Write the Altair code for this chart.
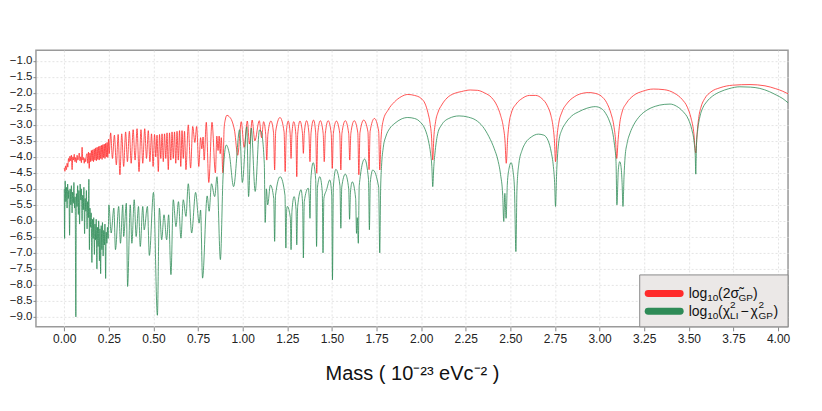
import altair as alt
import pandas as pd

# ---------------- data ----------------
red_mass = [
    0.000, 0.004, 0.008, 0.012, 0.016, 0.020, 0.024, 0.028, 0.032, 0.036, 0.040, 0.044, 0.048, 0.052,
    0.056, 0.060, 0.064, 0.068, 0.072, 0.076, 0.080, 0.084, 0.088, 0.092, 0.096, 0.100, 0.104, 0.108,
    0.112, 0.116, 0.120, 0.124,
    0.128, 0.132, 0.136, 0.140, 0.144, 0.148, 0.152, 0.156, 0.160, 0.164, 0.168, 0.172, 0.176, 0.180,
    0.184, 0.188, 0.192, 0.196, 0.200, 0.204, 0.208, 0.212, 0.216, 0.220, 0.224, 0.228, 0.232, 0.236,
    0.240, 0.244, 0.248, 0.252,
    0.260, 0.270, 0.281, 0.292, 0.302, 0.312, 0.322, 0.333, 0.344, 0.354, 0.365, 0.375, 0.386, 0.397,
    0.408, 0.419, 0.430, 0.440, 0.451, 0.461, 0.471, 0.480, 0.489,
    0.498, 0.506, 0.513, 0.520, 0.527, 0.534, 0.541, 0.548, 0.555, 0.562, 0.569, 0.576, 0.583, 0.590,
    0.597, 0.604, 0.611, 0.618, 0.625, 0.632, 0.639, 0.646, 0.653, 0.660, 0.667, 0.674, 0.682,
    0.695, 0.708, 0.720, 0.732, 0.742, 0.754, 0.764, 0.771, 0.778, 0.784, 0.796, 0.810, 0.828, 0.847,
    0.855, 0.862, 0.868, 0.874, 0.880, 0.889, 0.896, 0.902, 0.912, 0.924, 0.940, 0.955, 0.972,
    0.992, 1.008, 1.026, 1.038, 1.053, 1.068, 1.093, 1.106, 1.117,
    1.129, 1.135, 1.141, 1.158, 1.173, 1.179, 1.185, 1.209, 1.232, 1.238, 1.244, 1.255, 1.266, 1.271,
    1.276, 1.286, 1.298, 1.303, 1.308, 1.321, 1.335, 1.340, 1.345, 1.358, 1.371, 1.377, 1.383, 1.397,
    1.409, 1.415, 1.421, 1.435, 1.451, 1.457, 1.463, 1.479, 1.496, 1.502, 1.508, 1.525, 1.544, 1.550,
    1.556, 1.575, 1.594, 1.600, 1.606, 1.625, 1.645, 1.651, 1.657, 1.678, 1.702, 1.708, 1.714, 1.738,
    1.762, 1.768,
    1.775, 1.788, 1.813, 1.851, 1.888, 1.925, 1.963, 1.999, 2.023, 2.038, 2.050, 2.058, 2.065,
    2.071, 2.081, 2.095, 2.115, 2.145, 2.185, 2.225, 2.275, 2.315, 2.355, 2.395, 2.425, 2.445, 2.460,
    2.470, 2.477,
    2.485, 2.493, 2.507, 2.532, 2.567, 2.607, 2.642, 2.677, 2.707, 2.727, 2.739, 2.747, 2.753,
    2.761, 2.771, 2.789, 2.819, 2.859, 2.899, 2.939, 2.979, 3.009, 3.039, 3.064, 3.079, 3.089, 3.096,
    3.104, 3.113, 3.126, 3.151, 3.191, 3.241, 3.301, 3.362, 3.422, 3.462, 3.492, 3.512, 3.527, 3.539,
    3.546, 3.555, 3.568, 3.589, 3.624, 3.675, 3.746, 3.843, 3.927, 3.987, 4.027, 4.060,
]
red_value = [
    -4.35, -4.45, -4.28, -4.40, -4.20, -4.32, -4.05, -4.15, -3.98, -4.12, -3.95, -4.40, -4.00, -4.10,
    -3.92, -4.15, -4.02, -4.18, -3.95, -4.10, -4.05, -3.88, -4.12, -4.00, -4.18, -3.70, -4.10, -4.02,
    -4.20, -4.05, -4.15, -3.95,
    -3.90, -4.20, -3.85, -4.36, -3.88, -4.15, -3.80, -4.12, -3.78, -4.15, -3.75, -4.10, -3.72, -4.12,
    -3.70, -4.08, -3.68, -4.10, -3.66, -4.05, -3.64, -4.08, -3.62, -4.02, -3.60, -4.05, -3.58, -4.00,
    -3.55, -4.02, -3.45, -3.90,
    -3.25, -4.05, -3.32, -4.25, -3.30, -4.56, -3.28, -4.30, -3.22, -4.15, -3.20, -4.20, -3.15, -4.10,
    -3.12, -4.46, -3.15, -4.20, -3.12, -4.05, -3.18, -4.15, -3.28,
    -4.30, -3.30, -4.00, -3.32, -4.46, -3.30, -4.05, -3.28, -4.15, -3.28, -4.05, -3.25, -4.40, -3.25,
    -4.10, -3.22, -4.05, -3.22, -4.20, -3.20, -4.10, -3.18, -4.30, -3.18, -4.05, -3.20, -4.40,
    -3.00, -4.35, -3.05, -3.55, -3.05, -4.30, -3.40, -3.75, -3.38, -4.10, -2.92, -4.80, -2.92, -4.50,
    -3.35, -3.80, -3.35, -3.90, -3.40, -4.50, -3.10, -2.85, -2.70, -2.74, -2.88, -3.20, -3.95,
    -2.90, -3.70, -2.88, -3.60, -2.85, -3.50, -2.87, -3.40, -2.90,
    -3.30, -4.10, -3.30, -2.88, -3.25, -4.41, -3.20, -2.77, -3.22, -4.46, -3.25, -2.88, -3.28, -4.05,
    -3.28, -2.90, -3.30, -4.62, -3.30, -2.88, -3.27, -3.89, -3.27, -2.87, -3.25, -4.15, -3.25, -2.85,
    -3.25, -4.51, -3.25, -2.87, -3.27, -4.15, -3.27, -2.87, -3.27, -4.36, -3.27, -2.88, -3.27, -4.41,
    -3.27, -2.87, -3.27, -4.10, -3.27, -2.87, -3.25, -4.56, -3.25, -2.85, -3.22, -4.40, -3.20, -2.80,
    -3.20, -4.41,
    -3.45, -2.85, -2.55, -2.28, -2.12, -2.05, -2.08, -2.17, -2.35, -2.62, -2.95, -3.35, -4.10,
    -3.40, -2.90, -2.60, -2.38, -2.16, -2.02, -1.96, -1.91, -1.92, -2.00, -2.15, -2.40, -2.70, -3.05,
    -3.50, -4.20,
    -3.40, -2.95, -2.60, -2.35, -2.17, -2.08, -2.08, -2.18, -2.40, -2.70, -3.05, -3.50, -4.15,
    -3.40, -2.95, -2.60, -2.32, -2.12, -2.02, -1.99, -2.02, -2.10, -2.30, -2.65, -3.00, -3.45, -4.05,
    -3.45, -2.95, -2.60, -2.32, -2.08, -1.95, -1.88, -1.90, -2.02, -2.20, -2.45, -2.78, -3.20, -3.88,
    -3.30, -2.80, -2.45, -2.18, -1.97, -1.84, -1.76, -1.74, -1.78, -1.87, -1.95, -2.04,
]

green_mass = [
    0.000, 0.002, 0.005, 0.009, 0.012, 0.016, 0.019, 0.023, 0.026, 0.030, 0.033, 0.037, 0.040, 0.044,
    0.047, 0.051, 0.054, 0.058, 0.061, 0.065, 0.068, 0.072, 0.075, 0.079, 0.082, 0.086, 0.089, 0.093,
    0.096, 0.100, 0.103, 0.107, 0.110, 0.114, 0.117, 0.121, 0.124, 0.128, 0.131, 0.135, 0.138, 0.141,
    0.144, 0.148, 0.151, 0.155, 0.158, 0.162, 0.165, 0.169, 0.172, 0.176, 0.179, 0.183, 0.186, 0.190,
    0.193, 0.197, 0.200, 0.204, 0.207, 0.211, 0.214, 0.218, 0.221, 0.225, 0.228, 0.232, 0.235, 0.239,
    0.242, 0.246,
    0.250, 0.263, 0.278, 0.287, 0.305, 0.315, 0.328, 0.333, 0.348, 0.355, 0.370, 0.379, 0.392, 0.403,
    0.416, 0.426, 0.440, 0.448, 0.466, 0.477,
    0.500, 0.522, 0.533, 0.546, 0.559, 0.574, 0.585, 0.598, 0.611, 0.626, 0.640, 0.654, 0.667, 0.682,
    0.695, 0.714, 0.736, 0.756, 0.764, 0.775, 0.801, 0.812, 0.825, 0.843, 0.856, 0.875, 0.890, 0.908,
    0.925, 0.949,
    0.983, 0.998, 1.023, 1.033, 1.048, 1.070, 1.094, 1.103, 1.121, 1.126, 1.133, 1.140, 1.155,
    1.174, 1.179, 1.184, 1.210, 1.237, 1.242, 1.246, 1.250, 1.267, 1.271, 1.276, 1.288, 1.299, 1.303,
    1.308, 1.327, 1.336, 1.340, 1.345, 1.367, 1.373, 1.377, 1.382, 1.395, 1.409, 1.414, 1.419, 1.432,
    1.446, 1.450, 1.455, 1.470, 1.488, 1.499, 1.503, 1.508, 1.522, 1.545, 1.550, 1.555, 1.575, 1.594,
    1.599, 1.604, 1.614, 1.633, 1.638, 1.642, 1.648, 1.653, 1.683, 1.705, 1.710, 1.715, 1.729, 1.762,
    1.768,
    1.773, 1.778, 1.788, 1.803, 1.823, 1.853, 1.888, 1.925, 1.963, 1.998, 2.023, 2.041, 2.053, 2.060,
    2.065,
    2.071, 2.079, 2.093, 2.115, 2.155, 2.213, 2.265, 2.306, 2.345, 2.380, 2.410, 2.430, 2.445, 2.457,
    2.463, 2.469, 2.476, 2.483, 2.493, 2.504, 2.515, 2.523, 2.531,
    2.537, 2.548, 2.565, 2.585, 2.617, 2.657, 2.687, 2.712, 2.729, 2.741, 2.748, 2.753,
    2.760, 2.765, 2.772, 2.789, 2.809, 2.844, 2.883, 2.929, 2.976, 3.010, 3.035, 3.055, 3.072, 3.084,
    3.092, 3.097, 3.105, 3.113, 3.120, 3.126, 3.131,
    3.137, 3.143, 3.154, 3.171, 3.191, 3.226, 3.265, 3.312, 3.362, 3.395, 3.432, 3.467, 3.497, 3.517,
    3.530, 3.536, 3.539,
    3.543, 3.549, 3.562, 3.580, 3.600, 3.633, 3.674, 3.724, 3.786, 3.845, 3.898, 3.951, 3.991, 4.027,
    4.060,
]
green_value = [
    -5.00, -6.55, -4.75, -5.40, -4.95, -5.60, -4.85, -5.30, -5.05, -6.45, -5.00, -5.50, -4.90, -5.75,
    -5.10, -5.45, -4.80, -5.60, -5.25, -9.00, -5.15, -5.55, -4.90, -5.80, -5.05, -6.10, -4.85, -5.35,
    -5.00, -6.00, -5.20, -5.65, -4.95, -6.40, -5.30, -5.70, -5.05, -6.25, -5.40, -5.90, -4.70, -6.90,
    -5.60, -6.20, -5.75, -7.30, -5.95, -6.55, -5.90, -7.05, -6.10, -6.60, -5.95, -7.50, -6.20, -6.80,
    -6.00, -7.25, -6.25, -7.65, -6.15, -6.90, -6.05, -7.10, -6.30, -6.75, -6.10, -7.80, -6.35, -6.70,
    -6.20, -6.55,
    -5.50, -6.38, -5.60, -6.90, -5.55, -6.70, -5.50, -6.49, -5.45, -8.05, -5.50, -6.70, -5.34, -6.49,
    -5.55, -6.80, -5.55, -6.28, -5.55, -7.08,
    -5.11, -8.95, -5.60, -6.59, -5.81, -6.59, -5.81, -7.68, -5.34, -6.18, -5.40, -6.54, -5.34, -5.86,
    -4.84, -6.38, -5.11, -6.07, -5.66, -7.79, -5.22, -5.70, -4.84, -5.24, -4.62, -7.21, -4.60, -3.63,
    -3.90, -4.93,
    -3.15, -4.80, -3.06, -5.24, -3.10, -5.08, -3.16, -3.20, -4.20, -6.05, -5.00, -5.50, -4.88,
    -5.30, -6.64, -5.20, -4.62, -5.20, -6.85, -5.70, -5.55, -5.90, -6.90, -5.70, -5.24, -5.65, -6.75,
    -5.55, -5.03, -5.50, -7.16, -5.40, -4.98, -5.30, -5.92, -4.70, -4.18, -4.70, -6.80, -4.95, -4.62,
    -5.10, -7.00, -5.30, -5.03, -4.72, -5.20, -7.84, -4.95, -4.39, -4.90, -6.23, -4.95, -4.54, -5.00,
    -5.95, -5.10, -4.78, -5.30, -6.39, -5.90, -6.70, -4.90, -4.07, -4.70, -6.28, -4.80, -4.41, -4.95,
    -7.00,
    -5.00, -4.30, -3.70, -3.35, -3.12, -2.95, -2.82, -2.77, -2.80, -2.93, -3.15, -3.50, -3.90, -4.30,
    -4.93,
    -4.30, -3.80, -3.27, -3.00, -2.80, -2.72, -2.76, -2.85, -3.05, -3.37, -3.75, -4.10, -4.55, -5.20,
    -6.02, -5.14, -5.92, -4.85, -4.35, -4.18, -4.45, -5.00, -6.96,
    -5.00, -4.20, -3.80, -3.56, -3.38, -3.29, -3.32, -3.50, -3.85, -4.30, -4.80, -5.55,
    -4.40, -3.90, -3.50, -3.15, -2.95, -2.72, -2.59, -2.48, -2.43, -2.49, -2.65, -2.88, -3.20, -3.65,
    -4.15, -5.50, -4.40, -4.15, -4.30, -4.80, -5.55,
    -4.60, -4.00, -3.58, -3.25, -3.00, -2.72, -2.54, -2.42, -2.36, -2.35, -2.42, -2.58, -2.82, -3.15,
    -3.55, -3.95, -4.54,
    -3.60, -3.20, -2.75, -2.45, -2.28, -2.10, -1.97, -1.87, -1.81, -1.82, -1.86, -1.96, -2.07, -2.18,
    -2.33,
]

x_ticks = [0.0, 0.25, 0.5, 0.75, 1.0, 1.25, 1.5, 1.75, 2.0, 2.25, 2.5, 2.75, 3.0, 3.25, 3.5, 3.75, 4.0]
y_ticks = [-9.0, -8.5, -8.0, -7.5, -7.0, -6.5, -6.0, -5.5, -5.0, -4.5, -4.0, -3.5, -3.0, -2.5, -2.0, -1.5, -1.0]
x_title = "Mass ( 10⁻²³ eVc⁻² )"

# ---------------- chart ----------------
FONT = "Liberation Sans, Arial, sans-serif"
RED = "#ff2b2b"
GREEN = "#2e8b57"

red_df = pd.DataFrame({"mass": red_mass, "value": red_value})
green_df = pd.DataFrame({"mass": green_mass, "value": green_value})

x_enc = alt.X(
    "mass:Q",
    scale=alt.Scale(domain=[-0.1585, 4.056], nice=False, zero=False),
    axis=alt.Axis(values=x_ticks, format=".2f", title=x_title, titleFontSize=20,
                  titleFontWeight="normal", titlePadding=19, titleColor="#111"),
)
y_enc = alt.Y(
    "value:Q",
    scale=alt.Scale(domain=[-9.312, -0.666], nice=False, zero=False),
    axis=alt.Axis(values=y_ticks, format=".1f", title="",
                  labelExpr="replace(datum.label, '-', '−')"),
)

red_line = alt.Chart(red_df).mark_line(
    color=RED, strokeWidth=0.8, interpolate="monotone", clip=True
).encode(x=x_enc, y=y_enc)

green_line = alt.Chart(green_df).mark_line(
    color=GREEN, strokeWidth=0.8, interpolate="monotone", clip=True
).encode(x=x_enc, y=y_enc)

one = alt.Data(values=[{"k": 0}])

# legend (view coordinates; plot origin is at page x=36, y=50)
legend_box = alt.Chart(one).mark_rect(fill="#ebe8e7", stroke="#8a8a8a", strokeWidth=1).encode(
    x=alt.value(604.5), x2=alt.value(753), y=alt.value(225), y2=alt.value(277)
)
legend_red = alt.Chart(one).mark_rule(color=RED, strokeWidth=7, strokeCap="round").encode(
    x=alt.value(613), x2=alt.value(645), y=alt.value(243.5)
)
legend_green = alt.Chart(one).mark_rule(color=GREEN, strokeWidth=7, strokeCap="round").encode(
    x=alt.value(613), x2=alt.value(645), y=alt.value(261.5)
)


def piece(txt, x, y, size):
    return alt.Chart(one).mark_text(
        text=txt, align="left", baseline="alphabetic", font=FONT, fontSize=size, color="#111"
    ).encode(x=alt.value(x), y=alt.value(y))


legend_text = [
    piece("log", 653.5, 248, 14), piece("10", 672, 251, 10), piece("(2σ̃", 683, 248, 14),
    piece("GP", 703.5, 251, 10), piece(")", 718, 248, 14),
    piece("log", 653.5, 266, 14), piece("10", 672, 269, 10), piece("(χ", 683, 266, 14),
    piece("2", 695, 258, 10), piece("LI", 695, 269.5, 10), piece("−", 705.5, 266, 14),
    piece("χ", 715.5, 266, 14), piece("2", 723.5, 258, 10), piece("GP", 723.5, 269.5, 10),
    piece(")", 738.5, 266, 14),
]

chart = alt.layer(
    red_line, green_line, legend_box, legend_red, legend_green, *legend_text
).properties(
    width=753, height=277,
    padding={"left": 28, "top": 42, "right": 26, "bottom": 70},
    autosize=alt.AutoSizeParams(type="none"),
).configure_view(
    stroke="#9a9a9a", strokeWidth=1.5
).configure_axis(
    labelFont=FONT, labelFontSize=11.5, labelColor="#222",
    titleFont=FONT,
    domain=False, ticks=True, tickColor="#888", tickSize=3,
    grid=True, gridColor="#e4e4e4", gridDash=[2, 2], gridWidth=1,
).configure_axisX(
    labelPadding=3, tickSize=4, labelFontSize=12
).configure_axisY(
    labelPadding=1
)

chart.save("out.html", embed_options={"renderer": "svg", "actions": False})
